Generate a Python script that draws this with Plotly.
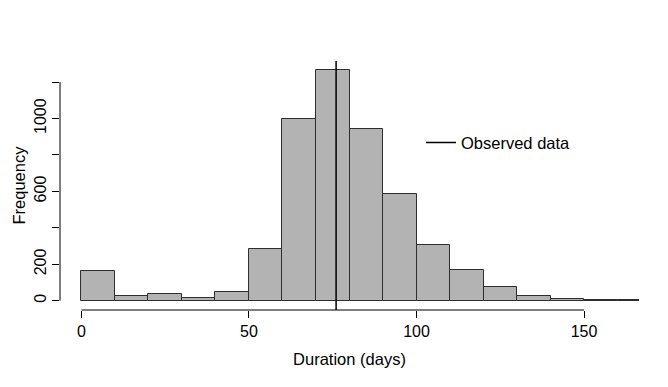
import plotly.graph_objects as go

# histogram of simulated durations (bin width 10 days)
bin_edges = [0, 10, 20, 30, 40, 50, 60, 70, 80, 90, 100, 110, 120, 130, 140, 150, 160, 170]
counts = [165, 25, 35, 18, 50, 285, 1000, 1265, 945, 585, 305, 170, 78, 24, 12, 5, 2]
observed = 76

x_ticks = [0, 50, 100, 150]
y_ticks = [0, 200, 400, 600, 800, 1000, 1200]
y_ticktext = ['0', '200', '', '600', '', '1000', '']

# R-style axis limits: xlim=c(0,160), ylim from counts, both padded by 4%
xlim = [0, 160]
ylim = [0, max(counts)]
pad_x = 0.04 * (xlim[1] - xlim[0])
pad_y = 0.04 * (ylim[1] - ylim[0])
x_range = [xlim[0] - pad_x, xlim[1] + pad_x]
y_range = [ylim[0] - pad_y, ylim[1] + pad_y]

centers = [(a + b) / 2 for a, b in zip(bin_edges[:-1], bin_edges[1:])]
widths = [b - a for a, b in zip(bin_edges[:-1], bin_edges[1:])]

fig = go.Figure()

fig.add_trace(go.Bar(
    x=centers,
    y=counts,
    width=widths,
    marker=dict(color='#B3B3B3', line=dict(color='#2e2e2e', width=1)),
    showlegend=False,
    hoverinfo='x+y'
))

fig.add_trace(go.Scatter(
    x=[observed, observed],
    y=y_range,
    mode='lines',
    line=dict(color='black', width=1.5),
    name='Observed data'
))

font_family = 'Liberation Sans, Arial, sans-serif'
fsize = 16.5

# page body adds 8px offset, so margins are trimmed on left/top
fig.update_layout(
    width=668,
    height=387,
    paper_bgcolor='white',
    plot_bgcolor='white',
    font=dict(family=font_family, size=fsize, color='black'),
    margin=dict(l=52, r=37, t=53, b=85),
    bargap=0,
    legend=dict(
        x=0.6235, y=0.672, xanchor='left', yanchor='middle',
        bgcolor='rgba(0,0,0,0)', borderwidth=0,
        font=dict(size=fsize), itemwidth=30
    ),
)

fig.update_xaxes(
    range=x_range,
    tickvals=x_ticks,
    ticks='outside', ticklen=7, tickcolor='black',
    showline=False, showgrid=False, zeroline=False,
    automargin=False,
    title=dict(text='Duration (days)', standoff=14, font=dict(size=fsize)),
    tickfont=dict(size=16)
)

fig.update_yaxes(
    range=y_range,
    tickvals=y_ticks,
    ticktext=y_ticktext,
    tickangle=-90,
    ticks='outside', ticklen=7, tickcolor='black',
    showline=False, showgrid=False, zeroline=False,
    automargin=False,
    tickfont=dict(size=16)
)

# y title placed by hand, close to the left edge
fig.add_annotation(
    text='Frequency', xref='paper', yref='paper', x=0, y=0.5,
    xanchor='center', yanchor='middle', xshift=-42, textangle=-90,
    showarrow=False, font=dict(size=fsize)
)

# R-style axis lines spanning only the tick range
fig.add_shape(type='line', xref='x', yref='paper',
              x0=min(x_ticks), x1=max(x_ticks), y0=0, y1=0,
              line=dict(color='black', width=1))
fig.add_shape(type='line', xref='paper', yref='y',
              x0=0, x1=0, y0=min(y_ticks), y1=max(y_ticks),
              line=dict(color='black', width=1))

fig.write_html('out.html')
